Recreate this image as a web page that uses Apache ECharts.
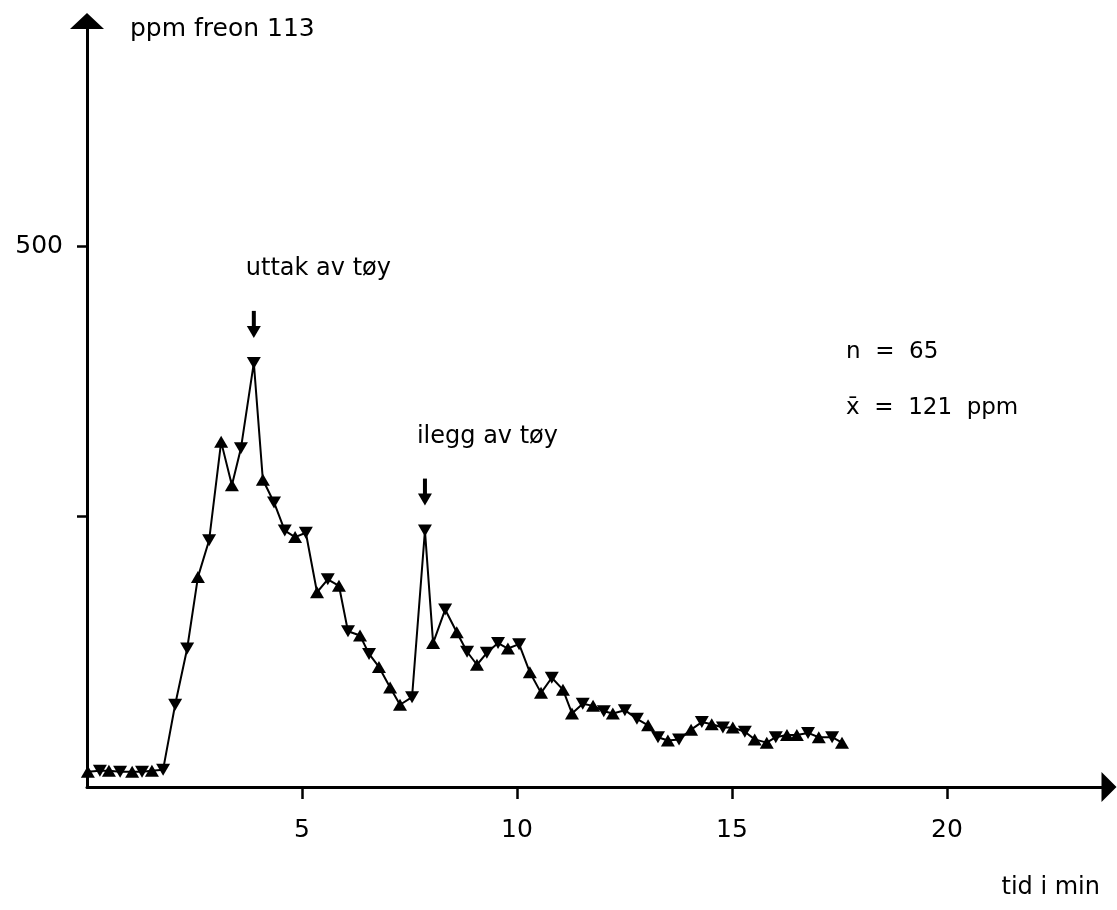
<!DOCTYPE html>
<html>
<head>
<meta charset="utf-8">
<script src="https://cdn.jsdelivr.net/npm/echarts@6/dist/echarts.min.js"></script>
<style>
html,body{margin:0;padding:0;background:#fff;}
#chart{width:1117px;height:910px;}
</style>
</head>
<body>
<div id="chart"></div>
<script>
// time in minutes
const times = [0.02,0.30,0.51,0.77,1.05,1.28,1.51,1.77,2.05,2.33,
  2.58,2.84,3.12,3.37,3.58,3.88,4.09,4.35,4.60,4.84,
  5.09,5.35,5.60,5.86,6.07,6.35,6.56,6.79,7.05,7.28,
  7.56,7.86,8.05,8.33,8.60,8.84,9.07,9.30,9.56,9.79,
  10.05,10.30,10.56,10.81,11.07,11.28,11.53,11.77,12.02,12.23,
  12.51,12.79,13.05,13.28,13.51,13.77,14.05,14.30,14.53,14.79,
  15.02,15.30,15.53,15.81,16.02,16.28,16.51,16.77,17.02,17.33,17.56];
// ppm freon 113
const ppm = [14,15,15,14,14,14,15,16,76,128,
  194,228,319,279,313,392,284,263,237,231,
  235,180,192,186,144,140,123,111,92,76,
  83,237,133,164,143,125,113,124,133,128,
  132,106,87,101,90,68,77,75,70,68,
  71,63,57,46,43,44,53,60,58,55,
  55,51,44,41,46,48,48,50,46,46,41];
// marker orientation: u = triangle up, d = triangle down
const markers = ['u','d','u','d','u','d','u','d','d','d',
  'u','d','u','u','d','d','u','d','d','u',
  'd','u','d','u','d','u','d','u','u','u',
  'd','d','u','d','u','d','u','d','d','u',
  'd','u','u','d','u','u','d','u','d','u',
  'd','d','u','d','u','d','u','d','u','d',
  'u','d','u','u','d','u','u','d','u','d','u'];
const xTicks = [5,10,15,20];
const yTicks = [250,500];
const yLabels = [500];
const annotations = [
  {label:'uttak av tøy', index:15},
  {label:'ilegg av tøy', index:31}
];
const stats = ['n  =  65', 'x\u0304  =  121  ppm'];

const FONT = 'DejaVu Sans';
const chart = echarts.init(document.getElementById('chart'), null, {renderer:'canvas'});

const seriesData = times.map((t,i)=>({
  value:[t, ppm[i]],
  symbolRotate: markers[i]==='d' ? 180 : 0
}));

chart.setOption({
  animation:false,
  backgroundColor:'#fff',
  grid:{left:87, right:8, top:21, bottom:123},
  xAxis:{
    type:'value', min:0, max:23.77, interval:5,
    splitLine:{show:false},
    axisLine:{show:true, lineStyle:{color:'#000', width:3}, symbol:['none','triangle'], symbolSize:[30,15]},
    axisTick:{show:true, customValues:xTicks, length:12, lineStyle:{color:'#000', width:2.5}},
    axisLabel:{show:true, customValues:xTicks, margin:31, color:'#000', fontFamily:FONT, fontSize:25}
  },
  yAxis:{
    type:'value', min:0, max:708, interval:250,
    name:'ppm freon 113', nameLocation:'end', nameGap:-8,
    nameTextStyle:{color:'#000', fontFamily:FONT, fontSize:25, align:'left', verticalAlign:'middle', padding:[0,0,0,43]},
    splitLine:{show:false},
    axisLine:{show:true, lineStyle:{color:'#000', width:3}, symbol:['none','triangle'], symbolSize:[34,16]},
    axisTick:{show:true, customValues:yTicks, length:10, lineStyle:{color:'#000', width:2.5}},
    axisLabel:{show:true, customValues:yLabels, margin:24, color:'#000', fontFamily:FONT, fontSize:25}
  },
  series:[{
    type:'line',
    data:seriesData,
    symbol:'triangle',
    symbolSize:[14,12],
    showAllSymbol:true,
    lineStyle:{color:'#000', width:2},
    itemStyle:{color:'#000'},
    z:5
  }]
});

function buildGraphics(){
  const g = [];
  annotations.forEach(a=>{
    const p = chart.convertToPixel({seriesIndex:0}, [times[a.index], ppm[a.index]]);
    const x = p[0], y = p[1];
    g.push({type:'line', shape:{x1:x, y1:y-52, x2:x, y2:y-34}, style:{stroke:'#000', lineWidth:4}});
    g.push({type:'polygon', shape:{points:[[x-7,y-37],[x+7,y-37],[x,y-25]]}, style:{fill:'#000'}});
    g.push({type:'text', x:x-8, y:y-94, style:{text:a.label, fill:'#000', font:'24px "'+FONT+'"', align:'left', verticalAlign:'middle'}});
  });
  g.push({type:'text', x:846, y:352, style:{text:stats[0], fill:'#000', font:'23px "'+FONT+'"', align:'left', verticalAlign:'middle'}});
  g.push({type:'text', x:846, y:408, style:{text:stats[1], fill:'#000', font:'23px "'+FONT+'"', align:'left', verticalAlign:'middle'}});
  g.push({type:'text', x:1100, y:888, style:{text:'tid i min', fill:'#000', font:'24px "'+FONT+'"', align:'right', verticalAlign:'middle'}});
  chart.setOption({graphic:g});
}
buildGraphics();
</script>
</body>
</html>
